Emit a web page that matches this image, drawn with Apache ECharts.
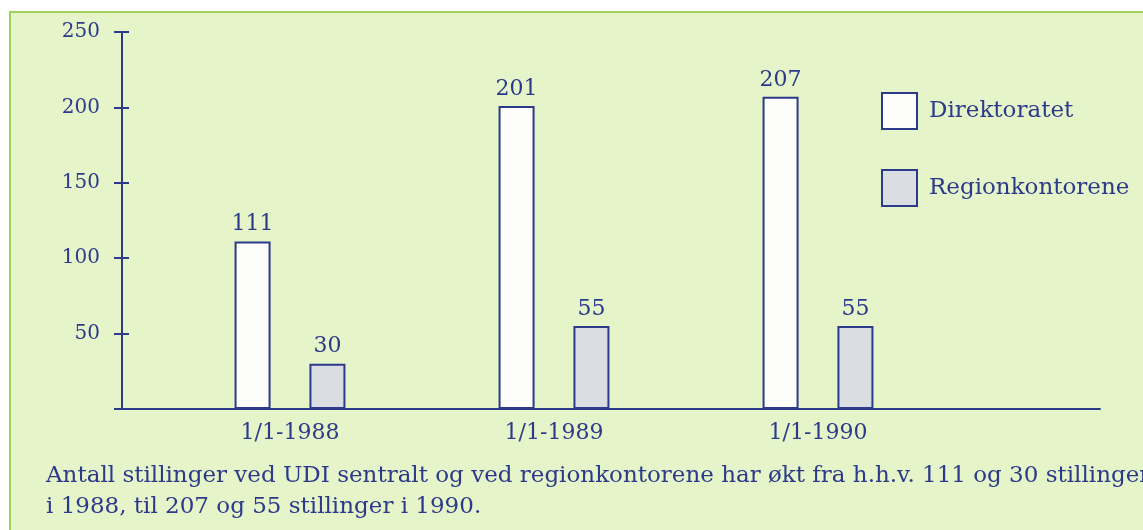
<!DOCTYPE html>
<html>
<head>
<meta charset="utf-8">
<script src="https://cdn.jsdelivr.net/npm/echarts@6/dist/echarts.min.js"></script>
<style>html,body{margin:0;padding:0;background:#fff}#chart{width:1143px;height:530px}</style>
</head>
<body>
<div id="chart"></div>
<script>
const categories = ['1/1-1988', '1/1-1989', '1/1-1990'];
const direktoratet = [111, 201, 207];
const regionkontorene = [30, 55, 55];
const yTicks = [0, 50, 100, 150, 200, 250];
const caption = 'Antall stillinger ved UDI sentralt og ved regionkontorene har økt fra h.h.v. 111 og 30 stillinger\ni 1988, til 207 og 55 stillinger i 1990.';

const ink = '#2b3a8a';
const font = '"DejaVu Serif", "Liberation Serif", serif';
const chart = echarts.init(document.getElementById('chart'));
const yMin = yTicks[0], yMax = yTicks[yTicks.length - 1], yStep = yTicks[1] - yTicks[0];

chart.setOption({
  backgroundColor: '#ffffff',
  animation: false,
  graphic: [
    { type: 'rect', left: 9, top: 11, shape: { width: 1200, height: 600 }, style: { fill: '#e6f4c9', stroke: '#9fd05a', lineWidth: 2 }, z: -10 },
    { type: 'text', left: 46, top: 461, style: { text: caption, font: '23px ' + font, fill: ink, lineHeight: 31 } }
  ],
  legend: {
    orient: 'vertical', left: 876, top: 87, itemWidth: 35, itemHeight: 36, itemGap: 39,
    icon: 'rect',
    textStyle: { color: ink, fontFamily: font, fontSize: 23, padding: [0, 0, 0, 7] },
    data: ['Direktoratet', 'Regionkontorene']
  },
  grid: [
    { left: 158, right: 193, top: 32, bottom: 121, containLabel: false },
    { left: 122, right: 43, top: 32, bottom: 121, containLabel: false }
  ],
  xAxis: [
    { type: 'category', gridIndex: 0, data: categories, axisLine: { show: false }, axisTick: { show: false },
      axisLabel: { color: ink, fontFamily: font, fontSize: 22, margin: 13 } },
    { type: 'value', gridIndex: 1, min: 0, max: 1, axisLine: { show: true, lineStyle: { color: ink, width: 2 } },
      axisTick: { show: false }, axisLabel: { show: false }, splitLine: { show: false } }
  ],
  yAxis: [
    { type: 'value', gridIndex: 0, min: yMin, max: yMax, interval: yStep, show: false },
    { type: 'value', gridIndex: 1, position: 'left', min: yMin, max: yMax, interval: yStep,
      axisLine: { show: true, lineStyle: { color: ink, width: 2 } },
      axisTick: { show: true, length: 8, lineStyle: { color: ink, width: 2 } },
      axisLabel: { color: ink, fontFamily: font, fontSize: 20, margin: 22, formatter: v => v === 0 ? '' : String(v) },
      splitLine: { show: false } },
    { type: 'value', gridIndex: 1, position: 'left', offset: 0, min: yMin, max: yMax, interval: yStep,
      axisLine: { show: false },
      axisTick: { show: true, inside: true, length: 7, lineStyle: { color: ink, width: 2 } },
      axisLabel: { show: false }, splitLine: { show: false } }
  ],
  series: [
    { name: 'Direktoratet', type: 'bar', xAxisIndex: 0, yAxisIndex: 0, data: direktoratet,
      barWidth: 36, barGap: '108%',
      itemStyle: { color: '#fdfdfb', borderColor: ink, borderWidth: 2 },
      label: { show: true, position: 'top', distance: 6, color: ink, fontFamily: font, fontSize: 22 } },
    { name: 'Regionkontorene', type: 'bar', xAxisIndex: 0, yAxisIndex: 0, data: regionkontorene,
      barWidth: 36,
      itemStyle: { color: '#dadde2', borderColor: ink, borderWidth: 2 },
      label: { show: true, position: 'top', distance: 6, color: ink, fontFamily: font, fontSize: 22 } }
  ]
});
</script>
</body>
</html>
